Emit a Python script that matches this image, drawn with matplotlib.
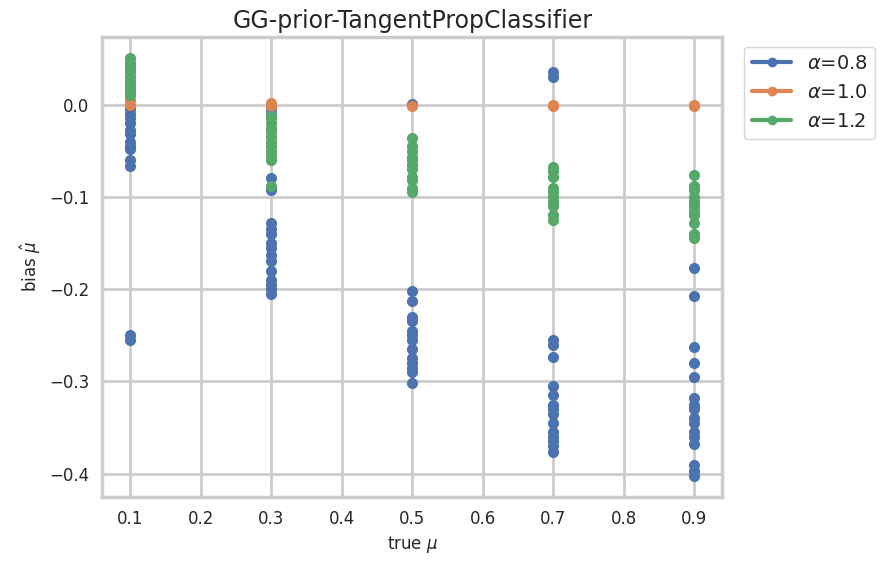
import matplotlib
matplotlib.use("Agg")
import matplotlib.pyplot as plt
import seaborn as sns
from matplotlib.lines import Line2D

sns.set_theme(style="whitegrid")
plt.rcParams['font.family'] = ['DejaVu Sans']

blue_x = [0.1]*15 + [0.3]*17 + [0.5]*14 + [0.7]*16 + [0.9]*16
blue_y = [0.045,0.04,-0.005,-0.01,-0.015,-0.02,-0.028,-0.032,-0.04,-0.045,-0.048,-0.06,-0.067,-0.25,-0.255,
          -0.005,-0.01,-0.08,-0.09,-0.093,-0.128,-0.135,-0.14,-0.15,-0.155,-0.163,-0.17,-0.18,-0.19,-0.195,-0.2,-0.205,
          0.001,-0.202,-0.213,-0.23,-0.235,-0.245,-0.25,-0.255,-0.265,-0.275,-0.28,-0.285,-0.29,-0.302,
          0.035,0.03,-0.255,-0.26,-0.273,-0.305,-0.315,-0.325,-0.33,-0.335,-0.345,-0.355,-0.36,-0.365,-0.37,-0.376,
          -0.177,-0.207,-0.263,-0.28,-0.295,-0.318,-0.325,-0.33,-0.34,-0.345,-0.355,-0.36,-0.368,-0.39,-0.397,-0.402]
orange_x = [0.1]*6 + [0.3]*2 + [0.5] + [0.7]*2 + [0.9]*2
orange_y = [0.0,0.005,0.01,0.015,0.02,0.03, 0.002,-0.001, -0.002, 0.0,-0.002, 0.0,-0.002]
green_x = [0.1]*9 + [0.3]*12 + [0.5]*11 + [0.7]*10 + [0.9]*11
green_y = [0.05,0.045,0.04,0.035,0.03,0.025,0.02,0.015,0.01,
           -0.012,-0.015,-0.02,-0.025,-0.03,-0.035,-0.04,-0.045,-0.05,-0.055,-0.06,-0.088,
           -0.036,-0.045,-0.05,-0.057,-0.06,-0.065,-0.07,-0.078,-0.082,-0.09,-0.095,
           -0.068,-0.072,-0.078,-0.09,-0.095,-0.1,-0.105,-0.11,-0.12,-0.125,
           -0.076,-0.088,-0.093,-0.1,-0.105,-0.11,-0.115,-0.12,-0.128,-0.14,-0.145]
labels = [r"$\alpha$=0.8", r"$\alpha$=1.0", r"$\alpha$=1.2"]
colors = ["#4c72b0", "#dd8452", "#55a868"]

fig = plt.figure(figsize=(8.82, 5.75), dpi=100)
ax = fig.add_axes([0.116, 0.136, 0.703, 0.80])
for xs, ys, c in [(blue_x, blue_y, colors[0]), (orange_x, orange_y, colors[1]), (green_x, green_y, colors[2])]:
    ax.plot(xs, ys, 'o', color=c, markersize=7, linestyle='none')

ax.set_xticks([0.1,0.2,0.3,0.4,0.5,0.6,0.7,0.8,0.9])
ax.set_yticks([0.0,-0.1,-0.2,-0.3,-0.4])
ax.set_ylim(-0.425, 0.0735)
ax.set_xlim(0.06, 0.94)
ax.grid(True, color="#cccccc", linewidth=2)
for s in ax.spines.values():
    s.set_color("#cccccc"); s.set_linewidth(2.5)
ax.tick_params(labelsize=12)
ax.set_title("GG-prior-TangentPropClassifier", fontsize=17)
ax.set_xlabel(r"true $\mu$", fontsize=12)
ax.set_ylabel(r"bias $\hat{\mu}$", fontsize=12)
handles = [Line2D([0],[0], color=c, marker='o', linewidth=3, markersize=6) for c in colors]
ax.legend(handles, labels, loc="upper left", bbox_to_anchor=(1.02, 1.0), fontsize=14)
fig.savefig("out.png", dpi=100)
